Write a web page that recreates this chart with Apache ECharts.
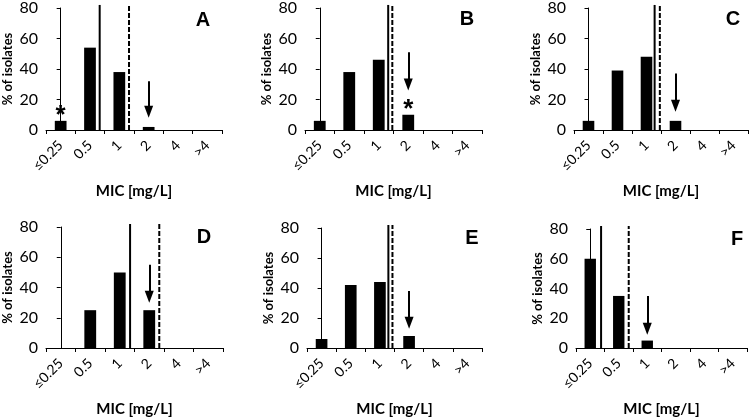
<!DOCTYPE html>
<html><head><meta charset="utf-8">
<script src="https://cdn.jsdelivr.net/npm/echarts@6/dist/echarts.min.js"></script>
<style>html,body{margin:0;padding:0;background:#fff}#c{width:750px;height:418px}</style>
</head><body><div id="c"></div>
<script>
// ---- data ----
const categories = ['≤0.25', '0.5', '1', '2', '4', '>4'];
const yTicks = [0, 20, 40, 60, 80];
const valuesA = [6, 54, 38, 2, 0, 0];
const valuesB = [6, 38, 46, 10, 0, 0];
const valuesC = [6, 39, 48, 6, 0, 0];
const valuesD = [0, 25, 50, 25, 0, 0];
const valuesE = [6, 42, 44, 8, 0, 0];
const valuesF = [60, 35, 5, 0, 0, 0];
const panelLabels = ['A', 'B', 'C', 'D', 'E', 'F'];
// breakpoint lines, in category-index units
const solidBreak = [1.33, 2.32, 2.28, 2.35, 2.29, 0.38];
const dashedBreak = [2.33, 2.46, 2.46, 3.34, 2.43, 1.35];
const breakTop = 82;
// arrows: category index, start value, tip value
const arrowCat = [3, 3, 3, 3, 3, 2];
const arrowFrom = [32, 51, 37, 55, 38, 35];
const arrowTo = [8, 26, 12, 30, 13, 9];
// asterisks: panel index, category index, value
const asteriskPanel = [0, 1];
const asteriskCat = [0, 3];
const asteriskY = [13, 17];
const xName = 'MIC [mg/L]';
const yName = '% of isolates';

// ---- layout ----
const grids = [
  {left: 45, top: 7, width: 177, height: 123},
  {left: 305, top: 7, width: 177, height: 123},
  {left: 574, top: 7, width: 174, height: 123},
  {left: 46, top: 227, width: 177, height: 123},
  {left: 307, top: 228, width: 175, height: 122},
  {left: 576, top: 229, width: 171, height: 121}
];
const letterPos = [[203, 20], [467, 19], [733, 19], [204, 237], [472, 238], [737, 239]];
const allValues = [valuesA, valuesB, valuesC, valuesD, valuesE, valuesF];

const option = {animation: false, grid: [], xAxis: [], yAxis: [], series: [], graphic: []};
grids.forEach((g, i) => {
  option.grid.push(Object.assign({containLabel: false}, g));
  option.xAxis.push({
    type: 'category', gridIndex: i, data: categories, boundaryGap: true,
    axisLine: {lineStyle: {color: '#000', width: 1}},
    axisTick: {show: true, length: 4, lineStyle: {color: '#000'}},
    axisLabel: {rotate: 45, interval: 0, fontSize: 14, color: '#000', fontFamily: 'Lato', margin: 13},
    name: xName, nameLocation: 'middle', nameGap: 54,
    nameTextStyle: {fontSize: 15, fontWeight: 'bold', color: '#000', fontFamily: 'Lato'}
  });
  option.xAxis.push({type: 'value', gridIndex: i, min: -0.5, max: 5.5, show: false});
  option.yAxis.push({
    type: 'value', gridIndex: i, min: yTicks[0], max: yTicks[yTicks.length - 1], interval: yTicks[1] - yTicks[0],
    axisLine: {show: true, lineStyle: {color: '#000', width: 1}},
    axisTick: {show: true, length: 4, lineStyle: {color: '#000'}},
    splitLine: {show: false},
    axisLabel: {fontSize: 16, color: '#000', fontFamily: 'Lato', margin: 8},
    name: yName, nameLocation: 'middle', nameGap: 32,
    nameTextStyle: {fontSize: 13, fontWeight: 'bold', color: '#000', fontFamily: 'Lato'}
  });
  option.series.push({
    type: 'bar', xAxisIndex: 2 * i, yAxisIndex: i, data: allValues[i],
    barWidth: '40%', itemStyle: {color: '#000'}, silent: true
  });
  option.series.push({
    type: 'line', xAxisIndex: 2 * i + 1, yAxisIndex: i, clip: false, silent: true,
    data: [[solidBreak[i], 0], [solidBreak[i], breakTop]], symbol: 'none',
    lineStyle: {color: '#000', width: 2},
    markLine: {
      silent: true, symbol: ['none', 'triangle'], symbolSize: [9, 12],
      label: {show: false}, lineStyle: {color: '#000', width: 2, type: 'solid'},
      data: [[{coord: [arrowCat[i], arrowFrom[i]]}, {coord: [arrowCat[i], arrowTo[i] + 3.9]}]]
    }
  });
  option.series.push({
    type: 'line', xAxisIndex: 2 * i + 1, yAxisIndex: i, clip: false, silent: true,
    data: [[dashedBreak[i], 0], [dashedBreak[i], breakTop]], symbol: 'none',
    lineStyle: {color: '#000', width: 2, type: [5, 2]}
  });
  option.graphic.push({
    type: 'text', x: letterPos[i][0], y: letterPos[i][1],
    style: {text: panelLabels[i], fill: '#000', font: 'bold 20px "Liberation Sans"', align: 'center', verticalAlign: 'middle'}
  });
});
asteriskPanel.forEach((p, k) => {
  option.series.push({
    type: 'scatter', xAxisIndex: 2 * p + 1, yAxisIndex: p, silent: true,
    data: [[asteriskCat[k], asteriskY[k]]], symbolSize: 1,
    itemStyle: {color: 'rgba(0,0,0,0)', opacity: 1},
    label: {show: true, position: 'inside', formatter: '*', fontSize: 26, fontWeight: 'bold',
      color: '#000', opacity: 1, textBorderWidth: 0, fontFamily: 'Liberation Sans', offset: [0, 6]}
  });
});
const chart = echarts.init(document.getElementById('c'), null, {renderer: 'canvas'});
chart.setOption(option);
</script>
</body></html>
